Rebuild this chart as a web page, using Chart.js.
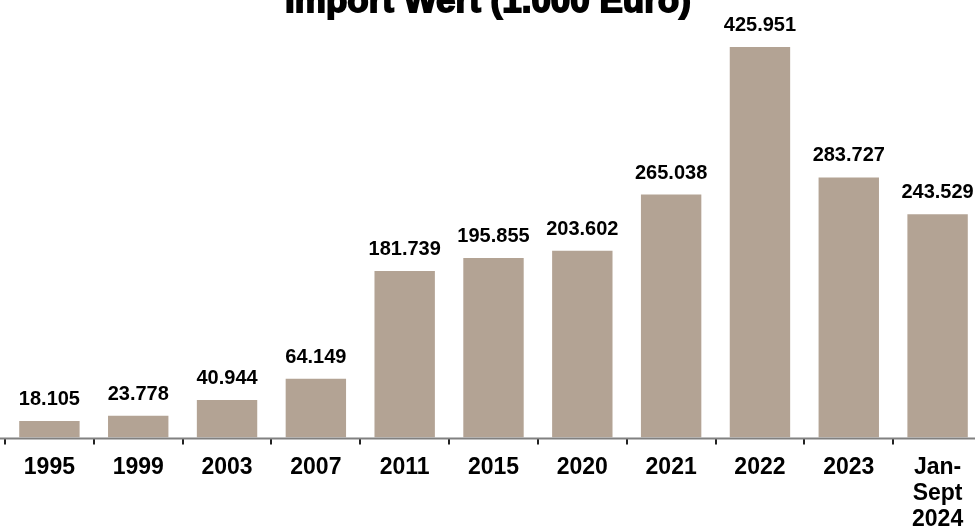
<!DOCTYPE html>
<html>
<head>
<meta charset="utf-8">
<script src="https://cdn.jsdelivr.net/npm/chart.js@4.4.1/dist/chart.umd.min.js"></script>
<style>
  html, body { margin: 0; padding: 0; background: #fff; overflow: hidden; }
  #wrap { position: relative; width: 990px; height: 531px; }
</style>
</head>
<body>
<div id="wrap"><canvas id="importChart"></canvas></div>
<script>
// Data
const years = ['1995', '1999', '2003', '2007', '2011', '2015', '2020', '2021', '2022', '2023', ['Jan-', 'Sept', '2024']];
const importValues = [18105, 23778, 40944, 64149, 181739, 195855, 203602, 265038, 425951, 283727, 243529];
const titleText = 'Import Wert (1.000 Euro)';

// Number format like 18.105
function formatValue(v) {
    return v.toLocaleString('de-DE');
}

// Title, axis line and value labels
const extrasPlugin = {
    id: 'extras',
    afterDatasetsDraw(chart) {
        const ctx = chart.ctx;
        const area = chart.chartArea;
        ctx.save();

        // axis line
        ctx.strokeStyle = '#808080';
        ctx.lineWidth = 2;
        ctx.beginPath();
        ctx.moveTo(0, area.bottom + 1);
        ctx.lineTo(975, area.bottom + 1);
        ctx.stroke();

        // value labels
        ctx.fillStyle = '#000';
        ctx.font = 'bold 20px "Liberation Sans", Arial, sans-serif';
        ctx.textAlign = 'center';
        ctx.textBaseline = 'alphabetic';
        chart.getDatasetMeta(0).data.forEach((bar, i) => {
            ctx.fillText(formatValue(importValues[i]), bar.x, bar.y - 16);
        });

        // title
        ctx.font = 'bold 35px "Liberation Sans", Arial, sans-serif';
        ctx.lineWidth = 1.8;
        ctx.strokeStyle = '#000';
        ctx.fillText(titleText, 488, 12);
        ctx.strokeText(titleText, 488, 12);
        ctx.restore();
    }
};

const ctx = document.getElementById('importChart').getContext('2d');
const importChart = new Chart(ctx, {
    type: 'bar',
    data: {
        labels: years,
        datasets: [{
            data: importValues,
            backgroundColor: '#b3a394',
            barPercentage: 0.68,
            categoryPercentage: 1.0
        }]
    },
    options: {
        responsive: true,
        maintainAspectRatio: false,
        animation: false,
        layout: { padding: { top: 25, left: 5, right: 8, bottom: 0 } },
        plugins: {
            legend: { display: false },
            title: { display: false },
            tooltip: { enabled: false }
        },
        scales: {
            x: {
                border: { display: false },
                grid: {
                    drawOnChartArea: false,
                    tickLength: 7,
                    tickColor: '#222',
                    lineWidth: 2
                },
                ticks: {
                    color: '#000',
                    padding: 10,
                    maxRotation: 0,
                    autoSkip: false,
                    font: { family: '"Liberation Sans", Arial, sans-serif', size: 23, weight: 'bold', lineHeight: 1.13 }
                },
                afterFit(scale) {
                    scale.height = 93.5;
                }
            },
            y: {
                display: false,
                min: 0,
                max: 450000
            }
        }
    },
    plugins: [extrasPlugin]
});
</script>
</body>
</html>
